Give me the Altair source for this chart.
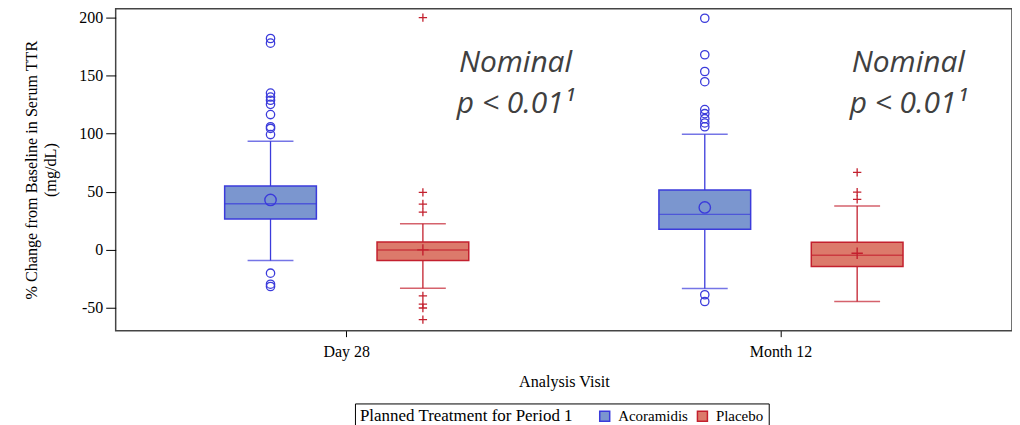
import altair as alt
import pandas as pd

visits = ["Day 28", "Month 12"]
treatments = ["Acoramidis", "Placebo"]

# summary statistics per group
grp_visit = ["Day 28", "Day 28", "Month 12", "Month 12"]
grp_trt = ["Acoramidis", "Placebo", "Acoramidis", "Placebo"]
q1 = [26.6, -9.2, 17.7, -14.3]
median = [39.7, 0.0, 30.6, -4.6]
q3 = [55.0, 6.9, 51.5, 6.6]
mean = [43.0, 0.0, 36.6, -2.9]
whisk_lo = [-9.2, -33.0, -33.2, -44.4]
whisk_hi = [93.6, 22.6, 99.6, 37.8]

# outliers per group
out_d28_acor = [182.0, 178.0, 135.0, 131.6, 128.8, 125.3, 116.5, 106.0, 104.6, 99.3, -20.0, -29.5, -31.5]
out_d28_plac = [200.0, 49.5, 39.5, 32.6, -39.5, -46.6, -50.0, -60.0]
out_m12_acor = [199.4, 168.0, 153.6, 144.8, 120.8, 117.3, 113.0, 109.3, 106.0, -38.6, -44.4]
out_m12_plac = [66.7, 49.8, 43.5]

ann_line1 = "Nominal"
ann_line2 = "p < 0.01\u00b9"

stroke_colors = ["#3b3bdb", "#c3202e"]
fill_colors = ["#7b96cf", "#dc7a6b"]
shapes = ["circle", "M-1,0H1M0,-1V1"]

box_df = pd.DataFrame({
    "visit": grp_visit, "treatment": grp_trt, "q1": q1, "median": median,
    "q3": q3, "mean": mean, "lo": whisk_lo, "hi": whisk_hi,
})

rows = []
for v, t, vals in [("Day 28", "Acoramidis", out_d28_acor), ("Day 28", "Placebo", out_d28_plac),
                   ("Month 12", "Acoramidis", out_m12_acor), ("Month 12", "Placebo", out_m12_plac)]:
    for val in vals:
        rows.append({"visit": v, "treatment": t, "value": val})
out_df = pd.DataFrame(rows)

serif = "Liberation Serif"
legend_title = "Planned Treatment for Period 1"

x = alt.X("visit:N", title="Analysis Visit", sort=visits,
          scale=alt.Scale(domain=visits, paddingInner=0, paddingOuter=0.032),
          axis=alt.Axis(labelAngle=0, tickSize=6, labelPadding=7, titlePadding=14))
xo = alt.XOffset("treatment:N",
                 scale=alt.Scale(domain=treatments, paddingInner=0, paddingOuter=0.425))
yscale = alt.Scale(domain=[-69.5, 207.7], nice=False, zero=False)
yaxis = alt.Axis(values=[-50, 0, 50, 100, 150, 200], tickSize=10, labelPadding=3,
                 labelExpr="datum.value",
                 title=["% Change from Baseline in Serum TTR", "(mg/dL)"], titlePadding=20,
                 titleLineHeight=19)
stroke = alt.Stroke("treatment:N", scale=alt.Scale(domain=treatments, range=stroke_colors),
                    legend=alt.Legend(title=legend_title, symbolType="square"))
fill = alt.Fill("treatment:N", scale=alt.Scale(domain=treatments, range=fill_colors),
                legend=alt.Legend(title=legend_title, symbolType="square"))
tcolor = alt.Color("treatment:N", scale=alt.Scale(domain=treatments, range=stroke_colors), legend=None)

base = alt.Chart(box_df)

whisk = base.mark_rule(strokeWidth=1.3).encode(
    x=x, xOffset=xo, y=alt.Y("lo:Q", scale=yscale, axis=yaxis), y2="hi:Q", stroke=stroke)
box = base.mark_bar(size=92, strokeWidth=1.5, fillOpacity=1).encode(
    x=x, xOffset=xo, y="q1:Q", y2="q3:Q", fill=fill, stroke=stroke)
med = base.mark_tick(size=92, thickness=1.5).encode(x=x, xOffset=xo, y="median:Q", color=tcolor)
cap_lo = base.mark_tick(size=46, thickness=1.5).encode(x=x, xOffset=xo, y="lo:Q", color=tcolor)
cap_hi = base.mark_tick(size=46, thickness=1.5).encode(x=x, xOffset=xo, y="hi:Q", color=tcolor)

pt_layers = []
for i, t in enumerate(treatments):
    pt_layers.append(
        alt.Chart(out_df).transform_filter(alt.datum.treatment == t)
        .mark_point(filled=False, size=70, strokeWidth=1.3, opacity=1, shape=shapes[i],
                    stroke=stroke_colors[i])
        .encode(x=x, xOffset=xo, y="value:Q"))
    pt_layers.append(
        base.transform_filter(alt.datum.treatment == t)
        .mark_point(filled=False, size=130, strokeWidth=1.4, opacity=1, shape=shapes[i],
                    stroke=stroke_colors[i])
        .encode(x=x, xOffset=xo, y="mean:Q"))

ann_df = pd.DataFrame({"l1": [ann_line1], "l2": [ann_line2]})
ann_style = dict(font="Open Sans", fontStyle="italic", fontSize=30, color="#404040",
                 align="center", baseline="alphabetic")
ann_layers = []
for xpos in [401, 795]:
    ann_layers.append(alt.Chart(ann_df).mark_text(**ann_style).encode(
        x=alt.value(xpos), y=alt.value(64), text="l1:N"))
    ann_layers.append(alt.Chart(ann_df).mark_text(**ann_style).encode(
        x=alt.value(xpos), y=alt.value(105), text="l2:N"))

chart = alt.layer(whisk, box, med, cap_lo, cap_hi, *pt_layers, *ann_layers).properties(
    width=899, height=323,
    padding={"left": 16, "top": 0, "right": 0, "bottom": 0}
).configure_view(
    stroke="#444", strokeWidth=1.5
).configure_axis(
    grid=False, domain=False, tickColor="#000", labelColor="#000", titleColor="#000",
    labelFont=serif, titleFont=serif, labelFontSize=16, titleFontSize=16.2,
    titleFontWeight="normal"
).configure_legend(
    orient="none", legendX=240, legendY=396, direction="horizontal", titleOrient="left",
    strokeColor="#000", padding=5, titleLimit=0,
    titleFont=serif, labelFont=serif, titleFontSize=17, labelFontSize=15,
    titleFontWeight="normal", titleColor="#000", labelColor="#000",
    symbolSize=100, symbolStrokeWidth=1.5, columnPadding=6, titlePadding=24,
    labelOffset=6
)

chart.save("out.html", embed_options={"renderer": "svg", "actions": False})
